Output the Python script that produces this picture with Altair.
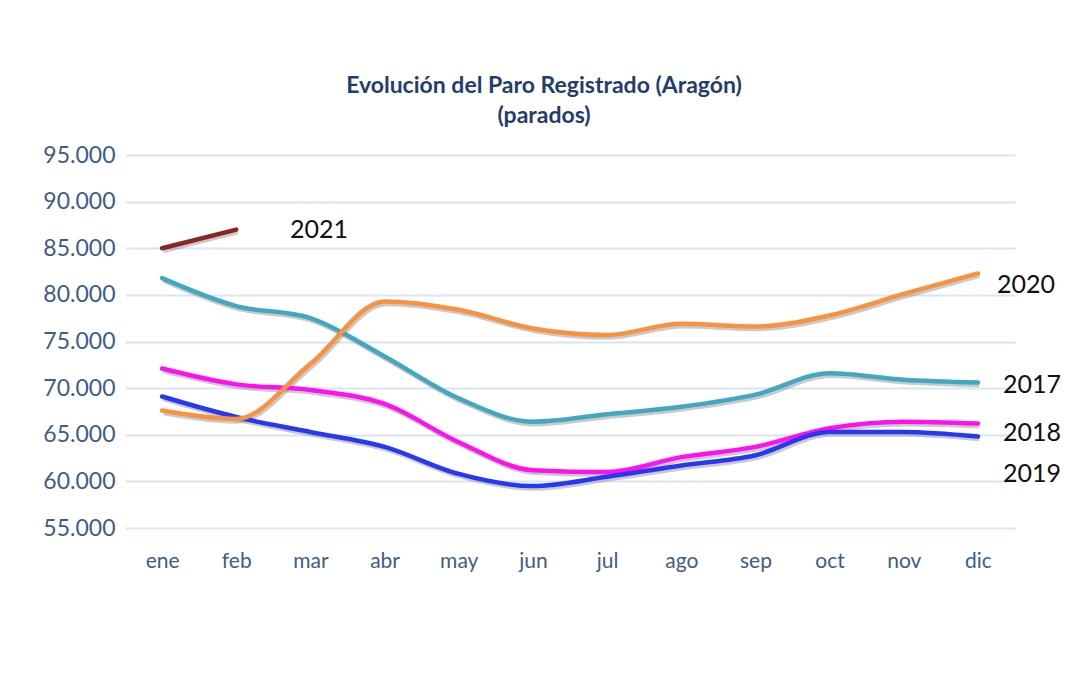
import altair as alt
import pandas as pd

months = ["ene", "feb", "mar", "abr", "may", "jun", "jul", "ago", "sep", "oct", "nov", "dic"]
years = ["2017", "2018", "2019", "2020", "2021"]
p2017 = [81800, 78800, 77500, 73400, 68900, 66400, 67200, 68000, 69300, 71600, 70900, 70600]
p2018 = [72100, 70400, 69800, 68300, 64200, 61200, 61000, 62600, 63700, 65700, 66400, 66200]
p2019 = [69100, 66900, 65300, 63700, 60800, 59500, 60500, 61700, 62800, 65300, 65300, 64800]
p2020 = [67600, 66700, 72600, 79300, 78400, 76400, 75700, 76900, 76600, 77800, 80100, 82300]
p2021 = [85000, 87000]
colors = ["#40A8C0", "#FF10F0", "#2638F2", "#F8923F", "#8E2424"]

rows = []
for y, vals in zip(years, [p2017, p2018, p2019, p2020, p2021]):
    for m, v in zip(months, vals):
        rows.append({"mes": m, "anio": y, "parados": v})
df = pd.DataFrame(rows)

FONT = "Lato"
AXIS_COLOR = "#3E5C88"

x_enc = alt.X("mes:N", sort=months, title=None,
              axis=alt.Axis(labelAngle=0, ticks=False, domain=False, grid=False,
                            labelFont=FONT, labelFontSize=21, labelColor=AXIS_COLOR,
                            labelPadding=22))
y_enc = alt.Y("parados:Q", title=None,
              scale=alt.Scale(domain=[55000, 95000], nice=False, zero=False),
              axis=alt.Axis(values=[55000, 60000, 65000, 70000, 75000, 80000, 85000, 90000, 95000],
                            labelExpr="replace(format(datum.value, ',d'), ',', '.')",
                            ticks=False, domain=False, gridColor="#D9E4F4", gridWidth=2,
                            labelFont=FONT, labelFontSize=23, labelColor=AXIS_COLOR,
                            labelPadding=10))
color_enc = alt.Color("anio:N", scale=alt.Scale(domain=years, range=colors), legend=None)

base = alt.Chart(df)

shadow = base.mark_line(interpolate="monotone", strokeWidth=4.5, color="#8a8a8a",
                        opacity=0.45, xOffset=1.5, yOffset=2.5).encode(
    x=x_enc, y=y_enc, detail="anio:N")

lines = base.mark_line(interpolate="monotone", strokeWidth=4.5, strokeCap="round").encode(
    x=x_enc, y=y_enc, color=color_enc)

label_text = ["2021", "2020", "2017", "2018", "2019"]
label_x = [165, 872, 878, 878, 878]
label_y = [75, 130, 230, 278, 319]
labels = alt.layer(*[
    alt.Chart(pd.DataFrame({"t": [t]})).mark_text(
        font=FONT, fontSize=25, color="#111111", align="left", baseline="middle"
    ).encode(text="t:N", x=alt.value(lx), y=alt.value(ly))
    for t, lx, ly in zip(label_text, label_x, label_y)
])

chart = alt.layer(shadow, lines, labels).properties(
    width=890, height=373,
    padding={"left": 125, "top": 155, "right": 65, "bottom": 148},
    autosize="none",
    background="white",
    title=alt.TitleParams(
        text=["Evolución del Paro Registrado (Aragón)", "(parados)"],
        font=FONT, fontSize=23, fontWeight="bold", color="#1F3D6E",
        anchor="middle", dx=-26, offset=16, lineHeight=30),
).configure_view(stroke=None)

chart.save("out.html", embed_options={"renderer": "svg", "actions": False})
